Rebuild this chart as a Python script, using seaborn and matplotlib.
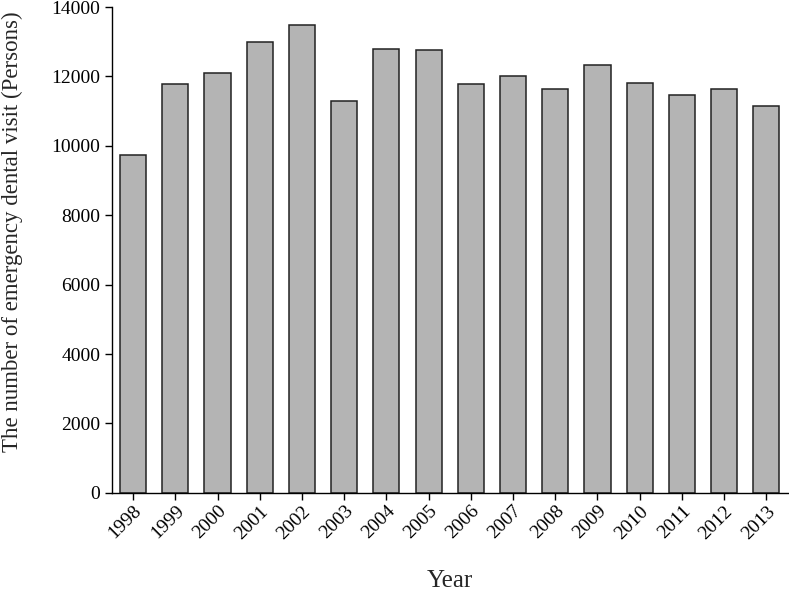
import matplotlib.pyplot as plt
import pandas as pd
import seaborn as sns

# values
years = ["1998", "1999", "2000", "2001", "2002", "2003", "2004", "2005",
         "2006", "2007", "2008", "2009", "2010", "2011", "2012", "2013"]
visits = [9730, 11790, 12100, 12990, 13490, 11290, 12800, 12750,
          11790, 12020, 11640, 12320, 11820, 11470, 11630, 11140]

df = pd.DataFrame({"Year": years, "Visits": visits})

sns.set_theme(style="ticks")
plt.rcParams["font.family"] = ["Liberation Serif", "DejaVu Serif"]

fig = plt.figure(figsize=(7.89, 5.91), dpi=100)
ax = fig.add_axes([0.142, 0.166, 0.857, 0.822])

sns.barplot(
    data=df,
    x="Year",
    y="Visits",
    color="#b4b4b4",
    saturation=1,
    width=0.62,
    edgecolor="#222222",
    linewidth=1.1,
    ax=ax,
)

ax.set_xlim(-0.5, 15.52)
ax.set_ylim(0, 14000)
ax.set_yticks(range(0, 14001, 2000))
ax.set_xlabel("Year", fontsize=18, labelpad=20)
ax.set_ylabel("The number of emergency dental visit (Persons)", fontsize=16.5)
ax.yaxis.set_label_coords(-0.132, 0.538)

ax.tick_params(axis="both", direction="out", length=5, width=1, colors="black", labelsize=14)
ax.tick_params(axis="x", pad=2)
plt.setp(ax.get_xticklabels(), rotation=45, ha="right", rotation_mode="anchor")

for side in ["top", "right"]:
    ax.spines[side].set_visible(False)
for side in ["left", "bottom"]:
    ax.spines[side].set_color("black")
    ax.spines[side].set_linewidth(1)

fig.savefig("out.png", dpi=100)
